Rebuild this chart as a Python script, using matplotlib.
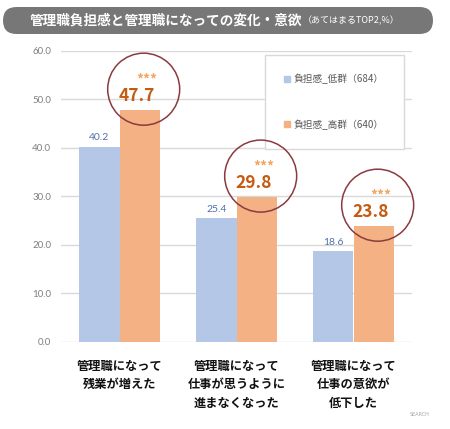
import numpy as np
import matplotlib
matplotlib.use('Agg')
import matplotlib.pyplot as plt
from matplotlib.patches import Circle, FancyBboxPatch, Rectangle
from matplotlib.transforms import IdentityTransform

plt.rcParams['font.family'] = ['Noto Sans CJK JP', 'DejaVu Sans']

# data
categories = ['管理職になって\n残業が増えた',
              '管理職になって\n仕事が思うように\n進まなくなった',
              '管理職になって\n仕事の意欲が\n低下した']
low_vals = [40.2, 25.4, 18.6]
high_vals = [47.7, 29.8, 23.8]
series_names = ['負担感_低群（684）', '負担感_高群（640）']
sig_marks = ['***', '***', '***']
yticks = [0, 10, 20, 30, 40, 50, 60]

title = '管理職負担感と管理職になっての変化・意欲'
subtitle = '（あてはまるTOP2,%）'

c_low = '#B4C7E7'
c_high = '#F4B183'
c_high_txt = '#C55A11'
c_star = '#F4A460'
c_low_txt = '#4F71AE'
c_ring = '#8B3A3F'

W, H = 450, 429
fig = plt.figure(figsize=(W / 100, H / 100), dpi=100)
fig.patch.set_facecolor('white')

ax = fig.add_axes([61 / W, 1 - 341.7 / H, 351 / W, 291.2 / H])
x = np.arange(len(categories))
bw = 0.345

ax.bar(x - bw / 2, low_vals, bw, color=c_low, zorder=2)
ax.bar(x + bw / 2, high_vals, bw, color=c_high, zorder=2)

ax.set_xlim(-0.5, len(categories) - 0.5)
ax.set_ylim(0, 60)
ax.set_yticks(yticks)
ax.set_yticklabels(['%.1f' % v for v in yticks], family=['Lato', 'DejaVu Sans'],
                   fontsize=7, color='#7F7F7F')
ax.set_xticks(x)
ax.set_xticklabels(categories, fontsize=8.8, fontweight='bold', color='#111111',
                   linespacing=1.55, va='top')
ax.tick_params(axis='both', length=0)
ax.tick_params(axis='y', pad=7)
ax.tick_params(axis='x', pad=13)
ax.yaxis.grid(True, color='#D9D9D9', linewidth=1, zorder=0)
for s in ax.spines.values():
    s.set_visible(False)

# value labels
for xi, v in zip(x, low_vals):
    ax.annotate('%.1f' % v, (xi - bw / 2, v), xytext=(0, 3), textcoords='offset points',
                ha='center', va='bottom', fontsize=7.5, color=c_low_txt,
                family=['Lato', 'DejaVu Sans'])

for xi, v, sig in zip(x, high_vals, sig_marks):
    ax.annotate('%.1f' % v, (xi + bw / 2, v), xytext=(-2, 4), textcoords='offset points',
                ha='center', va='bottom', fontsize=12.5, fontweight='bold', color=c_high_txt)
    ax.annotate(sig, (xi + bw / 2, v), xytext=(5, 17), textcoords='offset points',
                ha='center', va='bottom', fontsize=10, fontweight='bold', color=c_star)
    # highlight ring around the high group value
    px, py = ax.transData.transform((xi + bw / 2, v))
    ring = Circle((px + 4, py + 21), 36, transform=IdentityTransform(), fill=False,
                  edgecolor=c_ring, linewidth=1.1, zorder=5)
    fig.patches.append(ring)

# legend
handles = [Rectangle((0, 0), 1, 1, color=c_low), Rectangle((0, 0), 1, 1, color=c_high)]
leg = ax.legend(handles, series_names, loc='upper left',
                bbox_to_anchor=(265 / W, 1 - 146 / H, 139 / W, 91.5 / H),
                bbox_transform=fig.transFigure, mode='expand',
                fontsize=7, labelcolor='#595959', frameon=True, fancybox=False,
                edgecolor='#D9D9D9', framealpha=1, borderpad=2.0, labelspacing=3.6,
                handlelength=0.55, handleheight=0.55, handletextpad=0.4,
                borderaxespad=0)
leg.get_frame().set_linewidth(1)

# title banner (in inches)
r = 0.135
banner = FancyBboxPatch((0.03 + r, 0.07 * 0 + (H - 20.5) / 100), 4.30 - 2 * r, 0.0,
                        boxstyle='round,pad=%f,rounding_size=%f' % (r, r),
                        transform=fig.dpi_scale_trans, facecolor='#777777',
                        edgecolor='none', zorder=1)
fig.patches.append(banner)
fig.text(302 / W, 1 - 20.5 / H, title, ha='right', va='center', fontsize=9.8,
         fontweight='bold', color='white', zorder=3)
fig.text(303 / W, 1 - 21 / H, subtitle, ha='left', va='center', fontsize=6.5,
         color='white', zorder=3)

fig.text(430 / W, 1 - 415 / H, 'SEARCH', ha='right', va='center', fontsize=3.5,
         color='#A6A6A6', family=['DejaVu Sans'])

fig.savefig('out.png', dpi=100)
